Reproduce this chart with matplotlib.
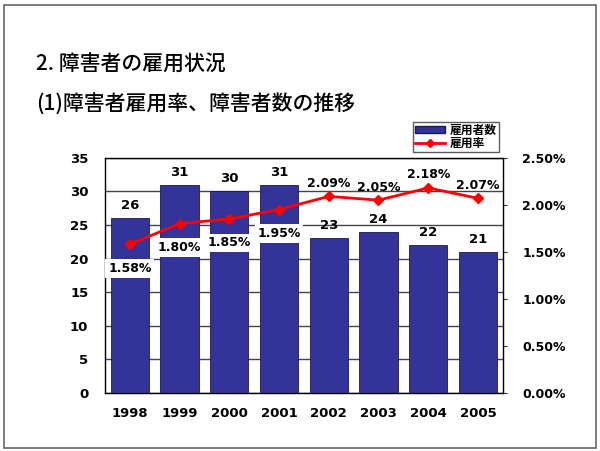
import matplotlib
matplotlib.use("Agg")
import matplotlib.pyplot as plt
from matplotlib.lines import Line2D
from matplotlib.patches import Patch, Rectangle
from matplotlib.ticker import FuncFormatter, MultipleLocator

years = ["1998", "1999", "2000", "2001", "2002", "2003", "2004", "2005"]
employees = [26, 31, 30, 31, 23, 24, 22, 21]
rates = [1.58, 1.80, 1.85, 1.95, 2.09, 2.05, 2.18, 2.07]
# rate labels sit below the marker for these years, above for the rest
below = [True, True, True, True, False, False, False, False]

title = "2. 障害者の雇用状況"
subtitle = "(1)障害者雇用率、障害者数の推移"
legend_labels = ["雇用者数", "雇用率"]

NAVY = "#333399"
RED = "#ff0000"
JP = ["Noto Sans CJK JP", "DejaVu Sans"]
NUM = "DejaVu Sans"

fig = plt.figure(figsize=(6.0, 4.51), dpi=100)

# slide border
fig.patches.append(Rectangle((0.006, 0.006), 0.987, 0.984, transform=fig.transFigure,
                             fill=False, edgecolor="#666666", lw=1.2))
fig.text(0.06, 0.857, title, family=JP, fontsize=15, fontweight="medium", va="center")
fig.text(0.06, 0.767, subtitle, family=JP, fontsize=15, fontweight="medium", va="center")

ax = fig.add_axes([0.175, 0.129, 0.663, 0.521])
x = range(len(years))
ax.bar(x, employees, width=0.77, color=NAVY, edgecolor="#1a1a4d", lw=0.6, zorder=2)
ax.set_xlim(-0.5, len(years) - 0.5)
ax.set_ylim(0, 35)
ax.yaxis.set_major_locator(MultipleLocator(5))
ax.grid(axis="y", color="#444444", lw=1, zorder=1)
ax.set_axisbelow(True)
ax.set_xticks(list(x))
ax.set_xticklabels(years)
ax.tick_params(axis="x", length=0, pad=10)
ax.tick_params(axis="y", length=0, pad=12)
for lab in ax.get_xticklabels() + ax.get_yticklabels():
    lab.set_family(NUM)
    lab.set_fontweight("bold")
    lab.set_fontsize(9.5)
for sp in ax.spines.values():
    sp.set_color("#333333")
    sp.set_linewidth(1)

for i, v in enumerate(employees):
    ax.text(i, v + 0.9, str(v), ha="center", va="bottom", family=NUM,
            fontweight="bold", fontsize=9.5, zorder=5)

ax2 = ax.twinx()
ax2.set_ylim(0, 2.5)
ax2.yaxis.set_major_locator(MultipleLocator(0.5))
ax2.yaxis.set_major_formatter(FuncFormatter(lambda v, p: f"{v:.2f}%"))
ax2.tick_params(axis="y", length=3, direction="out", pad=11, color="#333333")
for lab in ax2.get_yticklabels():
    lab.set_family(NUM)
    lab.set_fontweight("bold")
    lab.set_fontsize(9)
ax2.plot(x, rates, color=RED, lw=2, marker="D", markersize=5, zorder=4)
for i, r in enumerate(rates):
    if below[i]:
        ax2.text(i, r - 0.255, f"{r:.2f}%", ha="center", va="center", family=NUM,
                 fontweight="bold", fontsize=9, zorder=5,
                 bbox=dict(facecolor="white", edgecolor="none", pad=2))
    else:
        ax2.text(i, r + 0.07, f"{r:.2f}%", ha="center", va="bottom", family=NUM,
                 fontweight="bold", fontsize=9, zorder=5)

handles = [Patch(facecolor=NAVY, edgecolor="#1a1a4d"),
           Line2D([], [], color=RED, lw=2, marker="D", markersize=4)]
leg = fig.legend(handles, legend_labels, loc="upper left", bbox_to_anchor=(0.688, 0.73),
                 prop={"family": JP, "size": 8.5, "weight": "bold"}, frameon=True,
                 fancybox=False, edgecolor="#333333", borderpad=0.15, labelspacing=0.05,
                 handlelength=2.6, handleheight=0.55, handletextpad=0.4, borderaxespad=0)
leg.get_frame().set_linewidth(1)

fig.savefig("out.png", dpi=100)
